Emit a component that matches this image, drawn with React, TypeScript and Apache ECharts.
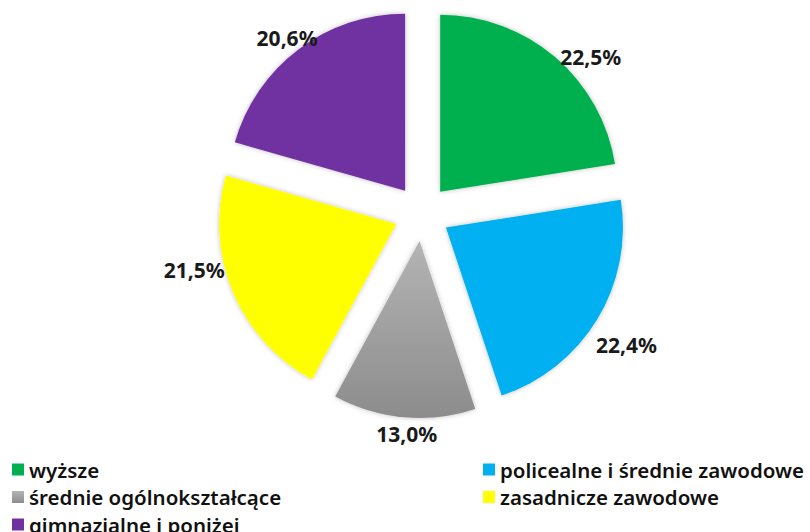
import React, { useEffect, useRef } from "react";
import * as echarts from "echarts";

const categories = [
  "wyższe",
  "policealne i średnie zawodowe",
  "średnie ogólnokształcące",
  "zasadnicze zawodowe",
  "gimnazjalne i poniżej",
];
const values = [22.5, 22.4, 13.0, 21.5, 20.6];
const colors: any[] = [
  "#00B050",
  "#00B0F0",
  {
    type: "linear",
    x: 0,
    y: 0,
    x2: 0,
    y2: 1,
    colorStops: [
      { offset: 0, color: "#b4b4b4" },
      { offset: 1, color: "#8c8c8c" },
    ],
  },
  "#FFFF00",
  "#7030A0",
];
const legendLeft = [categories[0], categories[2], categories[4]];
const legendRight = [categories[1], categories[3]];
// small label nudges (Excel "best fit" placement)
const labelNudgeX = [-5, -13, 39, 4, 29];
const labelNudgeY = [6, 21, 9, -26, -5];

export default function App() {
  const ref = useRef<HTMLDivElement>(null);
  useEffect(() => {
    document.body.style.margin = "0";
    const chart = echarts.init(ref.current!, null, { renderer: "svg" });
    const legendText = {
      fontFamily: "Noto Sans",
      fontSize: 20.5,
      fontWeight: 600,
      color: "#111",
      lineHeight: 20,
    };
    const legendBase = {
      orient: "vertical",
      top: 459,
      height: 90,
      padding: 0,
      itemWidth: 12,
      itemHeight: 12,
      itemGap: 6.5,
      icon: "rect",
      selectedMode: false,
      textStyle: legendText,
    };
    chart.setOption({
      animation: false,
      backgroundColor: "#fff",
      legend: [
        { ...legendBase, data: legendLeft, left: 12 },
        { ...legendBase, data: legendRight, left: 483 },
      ],
      series: [
        {
          type: "pie",
          center: [422, 213],
          radius: 177,
          startAngle: 90,
          clockwise: true,
          selectedMode: "multiple",
          selectedOffset: 28,
          emphasis: { disabled: true },
          itemStyle: {
            shadowBlur: 5,
            shadowColor: "rgba(0,0,0,0.25)",
          },
          label: {
            show: true,
            position: "outside",
            alignTo: "none",
            fontFamily: "Noto Sans",
            fontWeight: "bold",
            fontSize: 21,
            color: "#1a1a1a",
            formatter: (p: any) => p.value.toFixed(1).replace(".", ",") + "%",
          },
          labelLine: { show: false, length: 8, length2: 0 },
          labelLayout: (p: any) => ({
            dx: labelNudgeX[p.dataIndex],
            dy: labelNudgeY[p.dataIndex],
          }),
          data: categories.map((name, i) => ({
            name,
            value: values[i],
            selected: true,
            itemStyle: { color: colors[i] },
          })),
        },
      ],
    });
    return () => chart.dispose();
  }, []);
  return <div ref={ref} style={{ width: 810, height: 532 }} />;
}
